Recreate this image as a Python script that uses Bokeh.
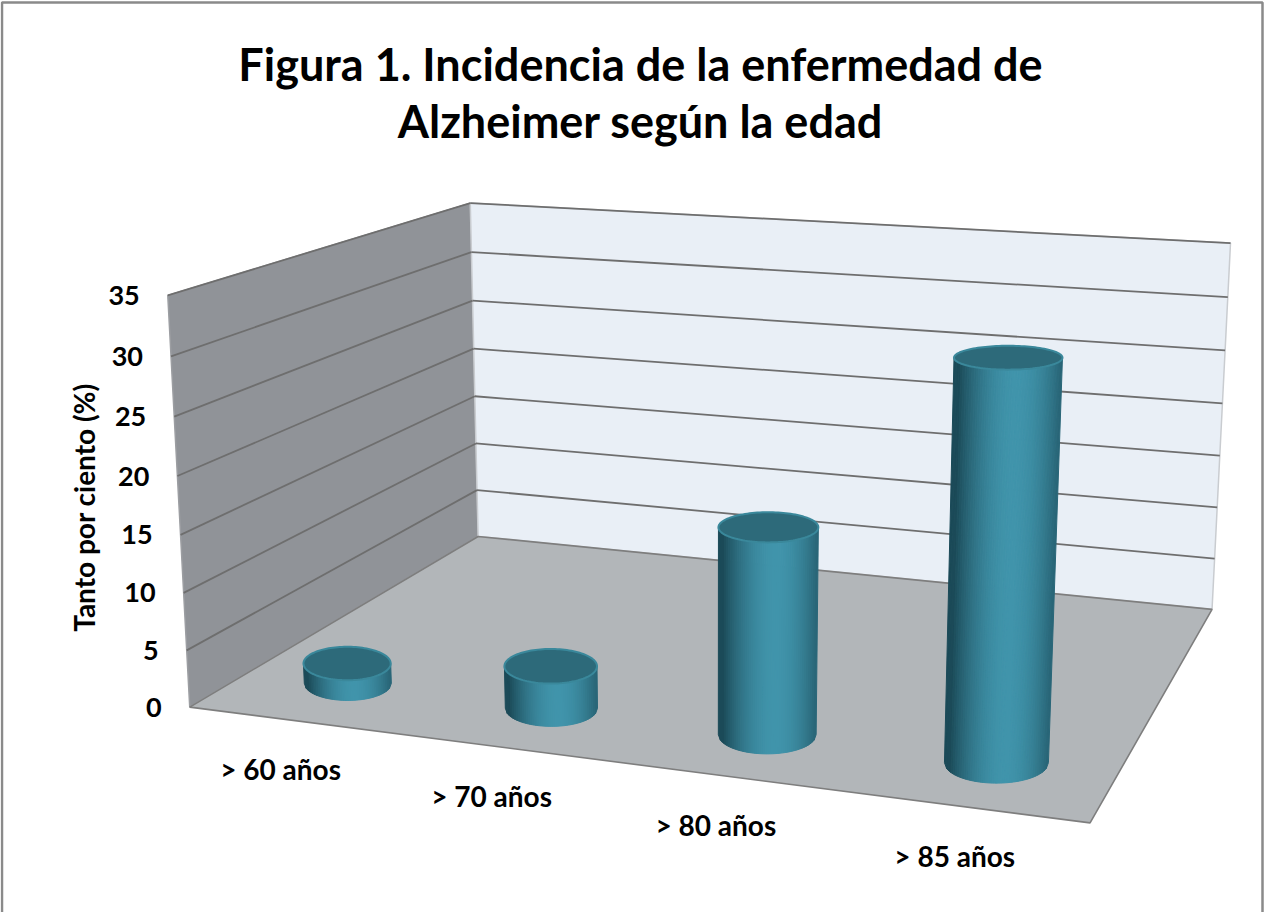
import numpy as np
from bokeh.plotting import figure
from bokeh.models import Range1d
from bokeh.embed import file_html
from bokeh.resources import INLINE
from bokeh.core.properties import value

# ---------------- data ----------------
categories = ["> 60 años", "> 70 años", "> 80 años", "> 85 años"]
incidence = [1.8, 3.7, 17.5, 32.6]
y_ticks = [0, 5, 10, 15, 20, 25, 30, 35]
title_lines = ["Figura 1. Incidencia de la enfermedad de", "Alzheimer según la edad"]
y_title = "Tanto por ciento (%)"
Y_MAX = 35

# ---------------- layout: perspective camera fitted to the plot box ----------------
# unit box: u = category axis (0..1), v = value / Y_MAX (0..1), w = depth (0 front .. 1 back)
box3d = [(0, 0, 0), (1, 0, 0), (0, 1, 0), (0, 0, 1), (1, 0, 1), (0, 1, 1), (1, 1, 1)]
box2d = [(190, 707), (1089, 823), (167, 294), (477, 536), (1212, 608), (470, 203), (1230, 243)]


def fit_camera():
    rows = []
    for (X, Y, Z), (px, py) in zip(box3d, box2d):
        px, py = px / 1000.0, py / 1000.0
        P = [X, Y, Z, 1.0]
        rows.append(P + [0, 0, 0, 0] + [-px * c for c in P])
        rows.append([0, 0, 0, 0] + P + [-py * c for c in P])
    _, _, vt = np.linalg.svd(np.array(rows, float))
    return vt[-1].reshape(3, 4)


CAM = fit_camera()


def proj(u, v, w):
    u, v, w = np.broadcast_arrays(np.asarray(u, float), np.asarray(v, float), np.asarray(w, float))
    H = CAM @ np.vstack([u.ravel(), v.ravel(), w.ravel(), np.ones(u.size)])
    return (H[0] / H[2] * 1000).reshape(u.shape), (H[1] / H[2] * 1000).reshape(u.shape)


FONT = value("Lato")
W_C = 0.175    # depth of the cylinder axis
R_U = 0.055    # cylinder radius along category axis
R_W = 0.085    # cylinder radius along depth axis

p = figure(width=1264, height=912, output_backend="svg", toolbar_location=None,
           x_range=Range1d(0, 1264), y_range=Range1d(912, 0),
           x_axis_location=None, y_axis_location=None, min_border=0,
           background_fill_color="white", border_fill_color="white")
p.grid.visible = False
p.outline_line_color = None

# chart border (top, left, right)
p.line([1.5, 1.5, 1262, 1262], [914, 2, 2, 914], line_color="#8a8a8a", line_width=2.5)


def face(pts):
    a = np.array(pts, float)
    return proj(a[:, 0], a[:, 1], a[:, 2])


# walls
lx, ly = face([(0, 0, 0), (0, 1, 0), (0, 1, 1), (0, 0, 1)])
p.patch(list(lx), list(ly), fill_color="#909398", line_color="#9c9ea2", line_width=1.5)
bx, by = face([(0, 0, 1), (1, 0, 1), (1, 1, 1), (0, 1, 1)])
p.patch(list(bx), list(by), fill_color="#e9eff6", line_color="#c9ccd0", line_width=1.5)

# gridlines
gx, gy = [], []
for t in y_ticks[1:]:
    v = t / Y_MAX
    x0, y0 = proj([0, 0], [v, v], [0, 1])
    x1, y1 = proj([0, 1], [v, v], [1, 1])
    gx.append(list(x0)); gy.append(list(y0))
    gx.append(list(x1)); gy.append(list(y1))
p.multi_line(gx, gy, line_color="#6e6e6e", line_width=1.8)

# floor
fx, fy = face([(0, 0, 0), (1, 0, 0), (1, 0, 1), (0, 0, 1)])
p.patch(list(fx), list(fy), fill_color="#b2b6b9", line_color="#7e7e7e", line_width=1.6)


# cylinders: projected centre, width from the category radius, ellipse height from depth radius
def section(uc, v):
    xl, _ = proj(uc - R_U, v, W_C)
    xr, _ = proj(uc + R_U, v, W_C)
    xc, yc = proj(uc, v, W_C)
    _, yf = proj(uc, v, W_C - R_W)
    _, yb = proj(uc, v, W_C + R_W)
    return float(xl), float(xr), float(yc), abs(float(yf) - float(yb)) / 2


dark = np.array([27, 74, 88], float)
light = np.array([64, 148, 171], float)
n = 48
ss = np.linspace(0, 1, n + 1)
sx, sy, sc = [], [], []
tops_x, tops_y = [], []
for i, val in enumerate(incidence):
    uc = (i + 0.5) / len(categories)
    vt = val / Y_MAX
    bl, br, byc, bb = section(uc, 0)
    tl, tr, tyc, tb = section(uc, vt)
    for k in range(n):
        s = ss[k:k + 2]
        arc = np.sqrt(np.clip(1 - (2 * s - 1) ** 2, 0, 1))
        xb = bl + (br - bl) * s
        yb = byc + bb * arc
        xt = tl + (tr - tl) * s
        yt = tyc + tb * arc
        sx.append([xb[0], xb[1], xt[1], xt[0]])
        sy.append([yb[0], yb[1], yt[1], yt[0]])
        m = (k + 0.5) / n
        b = max(0.0, np.cos((m - 0.58) * np.pi * 0.95)) ** 0.9
        c = dark + (light - dark) * b
        sc.append("#%02x%02x%02x" % tuple(int(round(x)) for x in c))
    tc = np.linspace(0, 2 * np.pi, 120)
    tops_x.append(list((tl + tr) / 2 + (tr - tl) / 2 * np.cos(tc)))
    tops_y.append(list(tyc + tb * np.sin(tc)))

p.patches(sx, sy, fill_color=sc, line_color=sc, line_width=1)
p.patches(tops_x, tops_y, fill_color="#2d6a7a", line_color="#3a889b", line_width=2)

# value tick labels
tx, ty = proj([0] * len(y_ticks), [t / Y_MAX for t in y_ticks], [0] * len(y_ticks))
p.text(x=list(tx - 28), y=list(ty), text=[str(t) for t in y_ticks], text_font=FONT,
       text_font_style="bold", text_font_size="27px", text_align="right",
       text_baseline="middle", text_color="black")

# category labels
cx, cy = proj([(i + 0.5) / len(categories) for i in range(len(categories))], 0, 0)
p.text(x=list(cx - 10), y=list(cy + 49), text=categories, text_font=FONT,
       text_font_style="bold", text_font_size="28px", text_align="center",
       text_baseline="middle", text_color="black")

# axis title
p.text(x=[83], y=[507], text=[y_title], angle=np.pi / 2, text_font=FONT,
       text_font_style="bold", text_font_size="28px", text_align="center",
       text_baseline="middle", text_color="black")

# title
p.text(x=[640, 640], y=[63, 120], text=title_lines, text_font=FONT,
       text_font_style="bold", text_font_size="45px", text_align="center",
       text_baseline="middle", text_color="black")

open("out.html", "w").write(file_html(p, INLINE))
